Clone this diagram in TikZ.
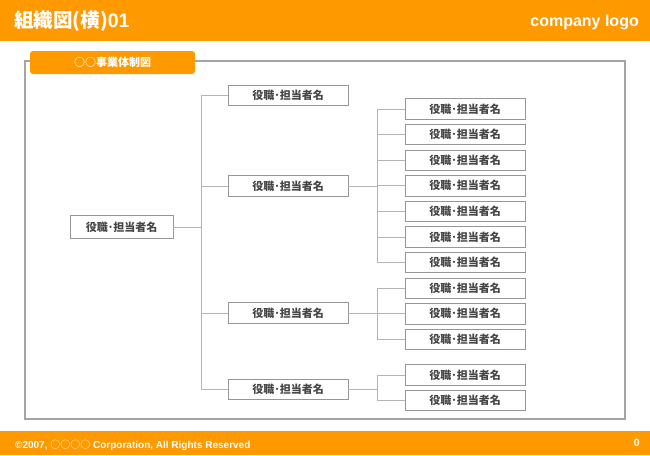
\documentclass[tikz,border=0pt]{standalone}
\usepackage{fontspec}
\setmainfont{Liberation Sans}
\newfontfamily\jpfont{Noto Sans CJK JP}
\usepackage{tikz}
\usetikzlibrary{positioning}
\definecolor{barorange}{RGB}{255,153,0}
\definecolor{framegray}{RGB}{165,165,165}
\definecolor{linegray}{RGB}{180,180,180}
\definecolor{boxgray}{RGB}{150,150,150}
\definecolor{textgray}{RGB}{70,70,70}
\tikzset{
  postbox/.style={draw=boxgray, line width=0.8pt, fill=white,
    minimum width=120pt, minimum height=20.5pt, inner sep=0pt,
    font=\jpfont\bfseries\fontsize{11}{12}\selectfont, text=textgray},
  link/.style={draw=linegray, line width=0.9pt},
  bartext/.style={text=white, inner sep=0pt, font=\bfseries},
}

\begin{document}
\begin{tikzpicture}[x=1pt, y=-1pt, node distance=4.3pt]
  \useasboundingbox (0,0) rectangle (650,455);

  % Header and footer bars
  \fill[barorange] (0,0) rectangle (650,41);
  \fill[barorange] (0,431) rectangle (650,455);
  \node[bartext, anchor=west, font=\jpfont\bfseries\fontsize{19.5}{21}\selectfont]
    (title) at (14,21.5) {組織図(横)\textrm{\bfseries 01}};
  \node[bartext, anchor=east, font=\bfseries\fontsize{16}{18}\selectfont]
    (logo) at (639,22) {company logo};
  \node[bartext, anchor=west, font=\bfseries\fontsize{10}{11}\selectfont]
    (copy) at (15,445) {©2007, {\jpfont\mdseries ○○○○} Corporation, All Rights Reserved};
  \node[bartext, anchor=east, font=\bfseries\fontsize{10.5}{11}\selectfont]
    (page) at (640,443) {0};

  % Frame and tab
  \draw[framegray, line width=1.5pt] (25,61) rectangle (625,419);
  \node[fill=barorange, rounded corners=3pt, minimum width=165pt,
        minimum height=23pt, inner sep=0pt, text=white,
        font=\jpfont\bfseries\fontsize{11}{12}\selectfont]
    (tab) at (112.5,62.5) {○○事業体制図};

  % Root
  \node[postbox, minimum width=103pt, minimum height=23pt] (root) at (121.5,227) {役職･担当者名};

  % First level
  \node[postbox] (l1a) at (288,95.5) {役職･担当者名};
  \node[postbox] (l1b) at (288,186) {役職･担当者名};
  \node[postbox] (l1c) at (288,313) {役職･担当者名};
  \node[postbox] (l1d) at (288,389.5) {役職･担当者名};

  % Second level
  \node[postbox] (s1) at (465,109) {役職･担当者名};
  \foreach \i [count=\j from 1] in {2,...,10} {
    \node[postbox, below=of s\j] (s\i) {役職･担当者名};
  }
  \node[postbox, below=14.3pt of s10] (s11) {役職･担当者名};
  \node[postbox, below=of s11] (s12) {役職･担当者名};

  % Connectors
  \coordinate (trunk) at ([xshift=28pt]root.east);
  \draw[link] (root) -- (trunk);
  \foreach \n in {l1a, l1b, l1c, l1d} {
    \draw[link] (trunk) |- (\n);
  }
  \coordinate (j2) at ([xshift=29pt]l1b.east);
  \coordinate (j3) at ([xshift=29pt]l1c.east);
  \coordinate (j4) at ([xshift=29pt]l1d.east);
  \draw[link] (l1b) -- (j2);
  \draw[link] (l1c) -- (j3);
  \draw[link] (l1d) -- (j4);
  \foreach \n in {s1, s2, s3, s4, s5, s6, s7} {
    \draw[link] (j2) |- (\n);
  }
  \foreach \n in {s8, s9, s10} {
    \draw[link] (j3) |- (\n);
  }
  \foreach \n in {s11, s12} {
    \draw[link] (j4) |- (\n);
  }
\end{tikzpicture}
\end{document}
